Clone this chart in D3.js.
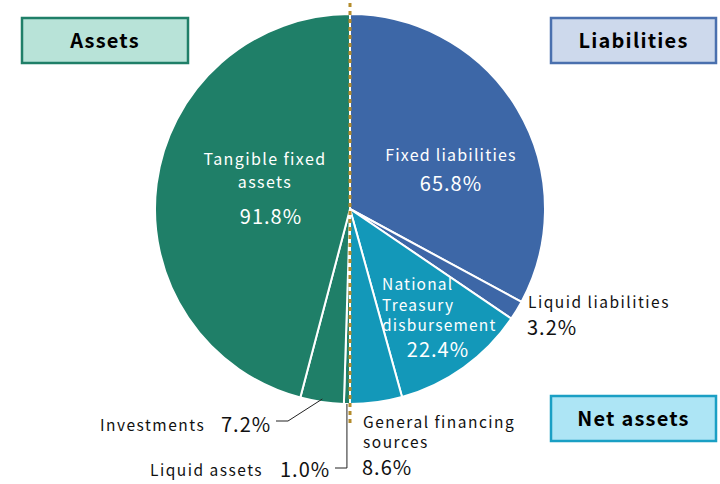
<!DOCTYPE html>
<html>
<head>
<meta charset="utf-8">
<script src="https://cdn.jsdelivr.net/npm/d3@7/dist/d3.min.js"></script>
<style>
  html, body { margin: 0; padding: 0; background: #fff; }
  svg { display: block; font-family: "Noto Sans CJK JP", "Noto Sans", sans-serif; }
</style>
</head>
<body>
<svg id="chart" width="720" height="484"></svg>
<script>
// Balance sheet composition: assets on the left half, liabilities + net assets on the right half
const assetNames = ["Liquid assets", "Investments", "Tangible fixed assets"];
const assetShares = [1.0, 7.2, 91.8];
const assetColors = ["#1f7f68", "#1f7f68", "#1f7f68"];

const liabilityNames = ["Fixed liabilities", "Liquid liabilities", "National Treasury disbursement", "General financing sources"];
const liabilityShares = [65.8, 3.2, 22.4, 8.6];
const liabilityColors = ["#3d67a7", "#3d67a7", "#1398b9", "#1398b9"];

const groupLabels = ["Assets", "Liabilities", "Net assets"];

const svg = d3.select("#chart");
const cx = 350, cy = 209, R = 195;

const arc = d3.arc().innerRadius(0).outerRadius(R);
const g = svg.append("g").attr("transform", `translate(${cx},${cy})`);

const rightPie = d3.pie().sort(null).value(d => d.v).startAngle(0).endAngle(Math.PI);
const leftPie = d3.pie().sort(null).value(d => d.v).startAngle(Math.PI).endAngle(2 * Math.PI);

const rightArcs = rightPie(liabilityNames.map((n, i) => ({ n, v: liabilityShares[i], c: liabilityColors[i] })));
const leftArcs = leftPie(assetNames.map((n, i) => ({ n, v: assetShares[i], c: assetColors[i] })));
const allArcs = leftArcs.concat(rightArcs);

g.selectAll("path.slice")
  .data(allArcs)
  .join("path")
  .attr("class", "slice")
  .attr("d", arc)
  .attr("fill", d => d.data.c)
  .attr("stroke", "#fff")
  .attr("stroke-width", 2)
  .attr("stroke-linejoin", "round");

// Divider between the two halves
svg.append("line")
  .attr("x1", cx).attr("x2", cx)
  .attr("y1", 3).attr("y2", 424)
  .attr("stroke", "#b48c2c")
  .attr("stroke-width", 3)
  .attr("stroke-dasharray", "4,4");

// Group boxes
function box(x, y, w, h, fill, stroke, label) {
  svg.append("rect")
    .attr("x", x).attr("y", y).attr("width", w).attr("height", h)
    .attr("fill", fill).attr("stroke", stroke).attr("stroke-width", 2.5);
  svg.append("text")
    .attr("x", x + w / 2).attr("y", y + h / 2 + 7)
    .attr("text-anchor", "middle")
    .attr("font-size", 20).attr("font-weight", "bold")
    .attr("letter-spacing", 1.2)
    .attr("fill", "#000")
    .text(label);
}
box(22, 18, 166, 45, "#b8e3d8", "#1f7f68", groupLabels[0]);
box(551, 18, 165, 45, "#cdd9ec", "#4a70ae", groupLabels[1]);
box(551, 396, 165, 45, "#ade5f5", "#1a9fc4", groupLabels[2]);

const pct = v => v.toFixed(1) + "%";

function lines(x, y, arr, opts) {
  const t = svg.append("text")
    .attr("x", x).attr("y", y)
    .attr("text-anchor", opts.anchor || "start")
    .attr("fill", opts.fill)
    .attr("font-size", opts.size)
    .attr("letter-spacing", opts.ls || 0);
  arr.forEach((s, i) => {
    t.append("tspan").attr("x", x).attr("dy", i === 0 ? 0 : opts.lh).text(s);
  });
}

const nameStyle = { size: 15.5, ls: 1.5 };
const numStyle = { size: 20, ls: 1 };

// In-slice labels (white)
lines(265, 165, ["Tangible fixed", "assets"], { fill: "#fff", size: 16, ls: 1.4, lh: 23, anchor: "middle" });
lines(271, 224, [pct(assetShares[2])], { fill: "#fff", ...numStyle, anchor: "middle" });

lines(451, 161, [liabilityNames[0]], { fill: "#fff", size: 16, ls: 1.2, anchor: "middle" });
lines(451, 191, [pct(liabilityShares[0])], { fill: "#fff", ...numStyle, anchor: "middle" });

lines(382, 290, ["National", "Treasury", "disbursement"], { fill: "#fff", size: 15.5, ls: 1.2, lh: 20.5 });
lines(438, 357, [pct(liabilityShares[2])], { fill: "#fff", ...numStyle, anchor: "middle" });

// Outside labels (black)
lines(528, 308, [liabilityNames[1]], { fill: "#111", ...nameStyle });
lines(527, 335, [pct(liabilityShares[1])], { fill: "#111", ...numStyle });

lines(363, 428, ["General financing", "sources"], { fill: "#111", ...nameStyle, lh: 20 });
lines(362, 475, [pct(liabilityShares[3])], { fill: "#111", ...numStyle });

lines(100, 431, [assetNames[1]], { fill: "#111", ...nameStyle });
lines(221, 432, [pct(assetShares[1])], { fill: "#111", ...numStyle });

lines(150, 476, [assetNames[0]], { fill: "#111", ...nameStyle });
lines(280, 477, [pct(assetShares[0])], { fill: "#111", ...numStyle });

// Leader lines
const toXY = (angle, r) => [cx + r * Math.sin(angle), cy - r * Math.cos(angle)];
const invMid = (leftArcs[1].startAngle + leftArcs[1].endAngle) / 2;
const invPt = toXY(invMid, R - 3);
svg.append("polyline")
  .attr("points", [[276, 421], [288, 421], invPt].map(p => p.join(",")).join(" "))
  .attr("fill", "none").attr("stroke", "#222").attr("stroke-width", 1);

const liqMid = (leftArcs[0].startAngle + leftArcs[0].endAngle) / 2;
const liqPt = toXY(liqMid, R);
svg.append("polyline")
  .attr("points", [[335, 468], [liqPt[0], 468], liqPt].map(p => p.join(",")).join(" "))
  .attr("fill", "none").attr("stroke", "#222").attr("stroke-width", 1);
</script>
</body>
</html>
